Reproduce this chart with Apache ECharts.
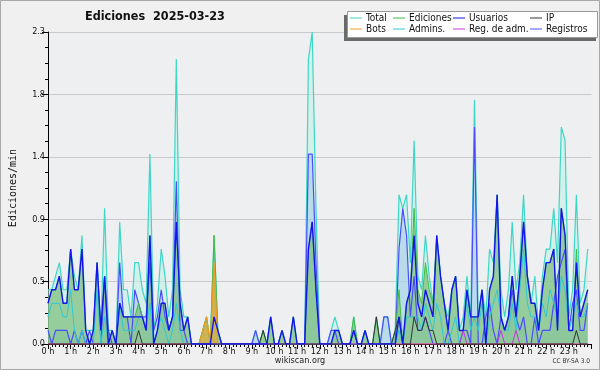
<!DOCTYPE html>
<html>
<head>
<meta charset="utf-8">
<script src="https://cdn.jsdelivr.net/npm/echarts@6/dist/echarts.min.js"></script>
<style>
  html, body { margin: 0; padding: 0; background: #f0f0f0; }
  #chart { width: 600px; height: 370px; }
</style>
</head>
<body>
<div id="chart"></div>
<script>
// one value every 10 min, 0 h .. 23 h 50 (edits per minute)
let total = [
  0.4, 0.4, 0.5, 0.6, 0.4, 0.4,
  0.7, 0.5, 0.4, 0.8, 0.1, 0.1,
  0.1, 0.6, 0.1, 1.0, 0.1, 0.1,
  0, 0.9, 0.4, 0.4, 0.2, 0.6,
  0.6, 0.4, 0.3, 1.4, 0.1, 0.3,
  0.7, 0.5, 0.2, 0.4, 2.1, 0.4,
  0.2, 0.2, 0, 0, 0, 0.1,
  0.2, 0, 0.8, 0.1, 0, 0,
  0, 0, 0, 0, 0, 0,
  0, 0.1, 0, 0.1, 0, 0.2,
  0, 0, 0.1, 0, 0, 0.2,
  0, 0, 0, 2.1, 2.3, 1.0,
  0, 0, 0, 0.1, 0.2, 0.1,
  0, 0, 0, 0.2, 0, 0,
  0.1, 0, 0, 0.2, 0, 0.2,
  0.2, 0, 0.1, 1.1, 1.0, 1.1,
  0.6, 1.5, 0.5, 0.4, 0.8, 0.5,
  0.3, 0.8, 0.5, 0.3, 0.2, 0.4,
  0.5, 0.1, 0.2, 0.5, 0.2, 1.8,
  0.2, 0.4, 0.2, 0.7, 0.6, 1.1,
  0.4, 0.2, 0.4, 0.9, 0.4, 0.6,
  1.1, 0.5, 0.3, 0.5, 0.1, 0.5,
  0.7, 0.7, 1.0, 0.6, 1.6, 1.5,
  0.2, 0.4, 1.1, 0.3, 0.4, 0.7
];
let ediciones = [
  0.3, 0.4, 0.4, 0.5, 0.3, 0.3,
  0.7, 0.4, 0.4, 0.7, 0.1, 0,
  0.1, 0.6, 0.1, 0.5, 0, 0.1,
  0, 0.3, 0.2, 0.2, 0.2, 0.2,
  0.3, 0.2, 0.1, 0.8, 0, 0.1,
  0.3, 0.3, 0.1, 0.2, 0.9, 0.3,
  0.1, 0.2, 0, 0, 0, 0.1,
  0.2, 0, 0.8, 0.1, 0, 0,
  0, 0, 0, 0, 0, 0,
  0, 0, 0, 0.1, 0, 0.2,
  0, 0, 0.1, 0, 0, 0.2,
  0, 0, 0, 0.7, 0.9, 0.4,
  0, 0, 0, 0, 0.1, 0.1,
  0, 0, 0, 0.2, 0, 0,
  0.1, 0, 0, 0.2, 0, 0,
  0, 0, 0.1, 0.4, 0, 0.3,
  0.4, 1.0, 0.4, 0.3, 0.6, 0.4,
  0.3, 0.8, 0.5, 0.3, 0.1, 0.4,
  0.5, 0.1, 0.1, 0.4, 0.2, 0.2,
  0.2, 0.4, 0, 0.4, 0.5, 1.1,
  0.2, 0.1, 0.2, 0.5, 0.2, 0.5,
  0.9, 0.5, 0.3, 0.3, 0.1, 0.4,
  0.6, 0.6, 0.7, 0.1, 1.0, 0.8,
  0.1, 0.1, 0.7, 0.2, 0.3, 0.4
];
let usuarios = [
  0.3, 0.4, 0.4, 0.5, 0.3, 0.3,
  0.7, 0.4, 0.4, 0.7, 0.1, 0,
  0.1, 0.6, 0.1, 0.5, 0, 0.1,
  0, 0.3, 0.2, 0.2, 0.2, 0.2,
  0.2, 0.2, 0.1, 0.8, 0, 0.1,
  0.3, 0.3, 0.1, 0.2, 0.9, 0.3,
  0.1, 0.2, 0, 0, 0, 0,
  0, 0, 0.2, 0.1, 0, 0,
  0, 0, 0, 0, 0, 0,
  0, 0, 0, 0, 0, 0.2,
  0, 0, 0.1, 0, 0, 0.2,
  0, 0, 0, 0.7, 0.9, 0.4,
  0, 0, 0, 0, 0.1, 0.1,
  0, 0, 0, 0.1, 0, 0,
  0.1, 0, 0, 0, 0, 0,
  0, 0, 0, 0.2, 0, 0.3,
  0.4, 0.8, 0.3, 0.2, 0.4, 0.3,
  0.2, 0.8, 0.5, 0.3, 0.1, 0.4,
  0.5, 0.1, 0.1, 0.4, 0.2, 0.2,
  0.2, 0.4, 0, 0.4, 0.5, 1.1,
  0.2, 0.1, 0.2, 0.5, 0.2, 0.5,
  0.9, 0.5, 0.3, 0.3, 0.1, 0.4,
  0.6, 0.6, 0.7, 0.1, 1.0, 0.8,
  0.1, 0.1, 0.6, 0.2, 0.3, 0.4
];
let ip = [
  0, 0, 0, 0, 0, 0,  0, 0, 0, 0, 0, 0,  0, 0, 0, 0, 0, 0,  0, 0, 0, 0, 0, 0,
  0.1, 0, 0, 0, 0, 0,  0, 0, 0, 0, 0, 0,  0, 0, 0, 0, 0, 0,  0, 0, 0, 0, 0, 0,
  0, 0, 0, 0, 0, 0,  0, 0, 0, 0.1, 0, 0,  0, 0, 0, 0, 0, 0,  0, 0, 0, 0, 0, 0,
  0, 0, 0, 0, 0, 0,  0, 0, 0, 0.1, 0, 0,  0, 0, 0, 0.2, 0, 0,  0, 0, 0.1, 0.2, 0, 0,
  0, 0.2, 0.1, 0.1, 0.2, 0.1,  0.1, 0, 0, 0, 0, 0,  0, 0, 0, 0, 0, 0,  0, 0, 0, 0, 0, 0,
  0, 0, 0, 0, 0, 0,  0, 0, 0, 0, 0, 0,  0, 0, 0, 0, 0, 0,  0, 0, 0.1, 0, 0, 0
];
let bots = [
  0, 0, 0, 0, 0, 0,  0, 0, 0, 0, 0, 0,  0, 0, 0, 0, 0, 0,  0, 0, 0, 0, 0, 0,
  0, 0, 0, 0, 0, 0,  0, 0, 0, 0, 0, 0,  0, 0, 0, 0, 0, 0.1,  0.2, 0, 0.6, 0, 0, 0,
  0, 0, 0, 0, 0, 0,  0, 0, 0, 0, 0, 0,  0, 0, 0, 0, 0, 0,  0, 0, 0, 0, 0, 0,
  0, 0, 0, 0, 0, 0,  0, 0, 0, 0, 0, 0,  0, 0, 0, 0, 0, 0,  0, 0, 0, 0, 0, 0,
  0, 0, 0, 0, 0, 0,  0, 0, 0, 0, 0, 0,  0, 0, 0, 0, 0, 0,  0, 0, 0, 0, 0, 0,
  0, 0, 0, 0, 0, 0,  0, 0, 0, 0, 0, 0,  0, 0, 0, 0, 0, 0,  0, 0, 0, 0, 0, 0
];
let admins = [
  0.2, 0.3, 0.3, 0.3, 0.2, 0.2,
  0.4, 0.1, 0, 0.1, 0, 0,
  0, 0.4, 0, 0.2, 0, 0,
  0, 0.3, 0.1, 0.1, 0.1, 0.1,
  0.2, 0.2, 0.1, 0.3, 0, 0.1,
  0.2, 0.1, 0, 0.1, 0.3, 0.1,
  0, 0, 0, 0, 0, 0,  0, 0, 0, 0, 0, 0,  0, 0, 0, 0, 0, 0,
  0, 0, 0, 0, 0, 0,  0, 0, 0, 0, 0, 0,  0, 0, 0, 0, 0, 0,
  0, 0, 0, 0, 0, 0,  0, 0, 0, 0, 0, 0,  0, 0, 0, 0, 0, 0,
  0, 0, 0, 0.1, 0, 0.2,
  0.2, 0.2, 0.2, 0.1, 0.3, 0.2,
  0.1, 0.3, 0.2, 0, 0, 0.1,
  0.2, 0, 0.1, 0.3, 0.1, 0.2,
  0.1, 0.3, 0, 0.2, 0.3, 0.4,
  0.2, 0.1, 0.1, 0.3, 0.1, 0.4,
  0.7, 0.3, 0.2, 0.2, 0.1, 0.3,
  0.2, 0.4, 0.3, 0.2, 0.5, 0.4,
  0.1, 0.2, 0.3, 0.2, 0.2, 0.3
];
let regAdm = [
  0, 0, 0, 0, 0, 0,  0, 0, 0, 0, 0, 0,  0, 0, 0, 0, 0, 0,  0, 0, 0, 0, 0, 0,
  0, 0, 0, 0, 0, 0,  0, 0, 0, 0, 0, 0,  0, 0, 0, 0, 0, 0,  0, 0, 0, 0, 0, 0,
  0, 0, 0, 0, 0, 0,  0, 0, 0, 0, 0, 0,  0, 0, 0, 0, 0, 0,  0, 0, 0, 0, 0, 0,
  0, 0, 0, 0, 0, 0,  0, 0, 0, 0, 0, 0,  0, 0, 0, 0, 0, 0,  0, 0, 0, 0, 0, 0,
  0, 0, 0, 0, 0, 0,  0, 0, 0, 0, 0, 0,  0, 0, 0.1, 0, 0, 0,  0, 0, 0, 0, 0, 0,
  0.1, 0, 0, 0, 0.1, 0,  0, 0, 0, 0, 0, 0,  0, 0, 0, 0, 0, 0,  0, 0, 0, 0, 0, 0
];
let registros = [
  0.1, 0, 0.1, 0.1, 0.1, 0.1,
  0, 0.1, 0, 0.1, 0, 0.1,
  0, 0, 0, 0.5, 0.1, 0,
  0, 0.6, 0.2, 0.2, 0, 0.4,
  0.3, 0.2, 0.2, 0.6, 0.1, 0.2,
  0.4, 0.2, 0.1, 0.2, 1.2, 0.1,
  0.1, 0, 0, 0, 0, 0,
  0, 0, 0, 0, 0, 0,
  0, 0, 0, 0, 0, 0,
  0, 0.1, 0, 0, 0, 0,
  0, 0, 0, 0, 0, 0,
  0, 0, 0, 1.4, 1.4, 0.6,
  0, 0, 0, 0.1, 0.1, 0,
  0, 0, 0, 0, 0, 0,
  0, 0, 0, 0, 0, 0.2,
  0.2, 0, 0, 0.7, 1.0, 0.8,
  0.2, 0.5, 0.1, 0.1, 0.2, 0.1,
  0, 0, 0, 0, 0.1, 0,
  0, 0, 0.1, 0.1, 0, 1.6,
  0, 0, 0.2, 0.3, 0.1, 0,
  0.2, 0.1, 0.2, 0.4, 0.2, 0.1,
  0.2, 0, 0, 0.2, 0, 0.1,
  0.1, 0.1, 0.3, 0.5, 0.6, 0.7,
  0.1, 0.3, 0.4, 0.1, 0.1, 0.3
];
let yTicks = ['0.0', '0.5', '0.9', '1.4', '1.8', '2.3'];

let font = "'DejaVu Sans Condensed', 'DejaVu Sans'";

function pts(arr) {
  return arr.map((v, i) => [i / 6, v]);
}

function mkLine(name, arr, color, width, area) {
  let s = {
    name: name,
    type: 'line',
    symbol: 'none',
    data: pts(arr),
    color: color,
    lineStyle: { color: color, width: width },
    emphasis: { disabled: true }
  };
  if (area) s.areaStyle = { color: area, opacity: 1 };
  return s;
}

function mkLegend(left, names) {
  return {
    orient: 'vertical',
    left: left,
    top: 13,
    padding: 0,
    itemWidth: 12,
    itemHeight: 1,
    itemGap: 1,
    icon: 'rect',
    selectedMode: false,
    z: 20,
    textStyle: { fontFamily: font, fontSize: 10, lineHeight: 10, color: '#111', padding: [0, 0, 0, -1] },
    data: names
  };
}

let chart = echarts.init(document.getElementById('chart'));
chart.setOption({
  animation: false,
  backgroundColor: '#f0f0f0',
  title: {
    text: 'Ediciones  2025-03-23',
    left: 85,
    top: 10,
    padding: 0,
    textStyle: { fontFamily: font, fontSize: 12.5, fontWeight: 'bold', color: '#111' }
  },
  graphic: [
    { type: 'rect', shape: { x: 0.5, y: 0.5, width: 599, height: 369 }, style: { fill: 'none', stroke: '#a8a8a8', lineWidth: 1 }, z: 100 },
    { type: 'rect', shape: { x: 344, y: 15, width: 252, height: 26 }, style: { fill: '#6a6a6a' }, z: 10 },
    { type: 'rect', shape: { x: 347.5, y: 11.5, width: 250, height: 26 }, style: { fill: '#fff', stroke: '#999', lineWidth: 1 }, z: 11 },
    { type: 'text', left: 'center', top: 356, style: { text: 'wikiscan.org', font: '9px ' + font, fill: '#222' } },
    { type: 'text', right: 10, top: 358, style: { text: 'CC BY-SA 3.0', font: '6.5px ' + font, fill: '#333' } }
  ],
  legend: [
    mkLegend(350, ['Total', 'Bots']),
    mkLegend(393, ['Ediciones', 'Admins.']),
    mkLegend(453, ['Usuarios', 'Reg. de adm.']),
    mkLegend(530, ['IP', 'Registros'])
  ],
  grid: {
    left: 46.5,
    right: 8.5,
    top: 32,
    bottom: 26,
    show: true,
    backgroundColor: '#eeeff1',
    borderWidth: 0
  },
  xAxis: {
    type: 'value',
    min: 0,
    max: 24,
    interval: 1,
    axisLine: { show: true, onZero: false, lineStyle: { color: '#000', width: 1 } },
    axisTick: { show: true, length: 5, lineStyle: { color: '#000' } },
    minorTick: { show: true, splitNumber: 6, length: 3, lineStyle: { color: '#000' } },
    splitLine: { show: false },
    axisLabel: {
      margin: 3,
      fontFamily: font,
      fontSize: 9,
      color: '#111',
      showMaxLabel: false,
      formatter: v => v + ' h'
    }
  },
  yAxis: {
    type: 'value',
    min: 0,
    max: 2.3,
    interval: 0.46,
    name: 'Ediciones/min',
    nameLocation: 'middle',
    nameGap: 30,
    nameTextStyle: { fontFamily: "'DejaVu Sans Mono'", fontSize: 10, color: '#111' },
    axisLine: { show: true, lineStyle: { color: '#000', width: 1 } },
    axisTick: { show: true, length: 6, lineStyle: { color: '#000' } },
    minorTick: { show: true, splitNumber: 4, length: 3, lineStyle: { color: '#000' } },
    splitLine: { show: true, lineStyle: { color: '#cacacc', width: 1 } },
    axisLabel: {
      margin: 3,
      fontFamily: font,
      fontSize: 9,
      color: '#111',
      formatter: (v) => yTicks[Math.round(v / 0.46)]
    }
  },
  series: [
    mkLine('Total', total, '#3ed6c6', 1.2, 'rgba(190, 240, 228, 0.55)'),
    mkLine('Registros', registros, '#4c4cff', 1.2, 'rgba(150, 190, 235, 0.4)'),
    mkLine('Ediciones', ediciones, '#44bb44', 1, 'rgba(120, 190, 120, 0.68)'),
    mkLine('Bots', bots, '#f39a1e', 1.2, 'rgba(245, 160, 40, 0.6)'),
    mkLine('Admins.', admins, '#2ec8d2', 1, null),
    mkLine('Reg. de adm.', regAdm, '#cc33dd', 1, null),
    mkLine('IP', ip, '#333333', 1, null),
    mkLine('Usuarios', usuarios, '#1414ee', 1.4, null)
  ]
});
</script>
</body>
</html>
